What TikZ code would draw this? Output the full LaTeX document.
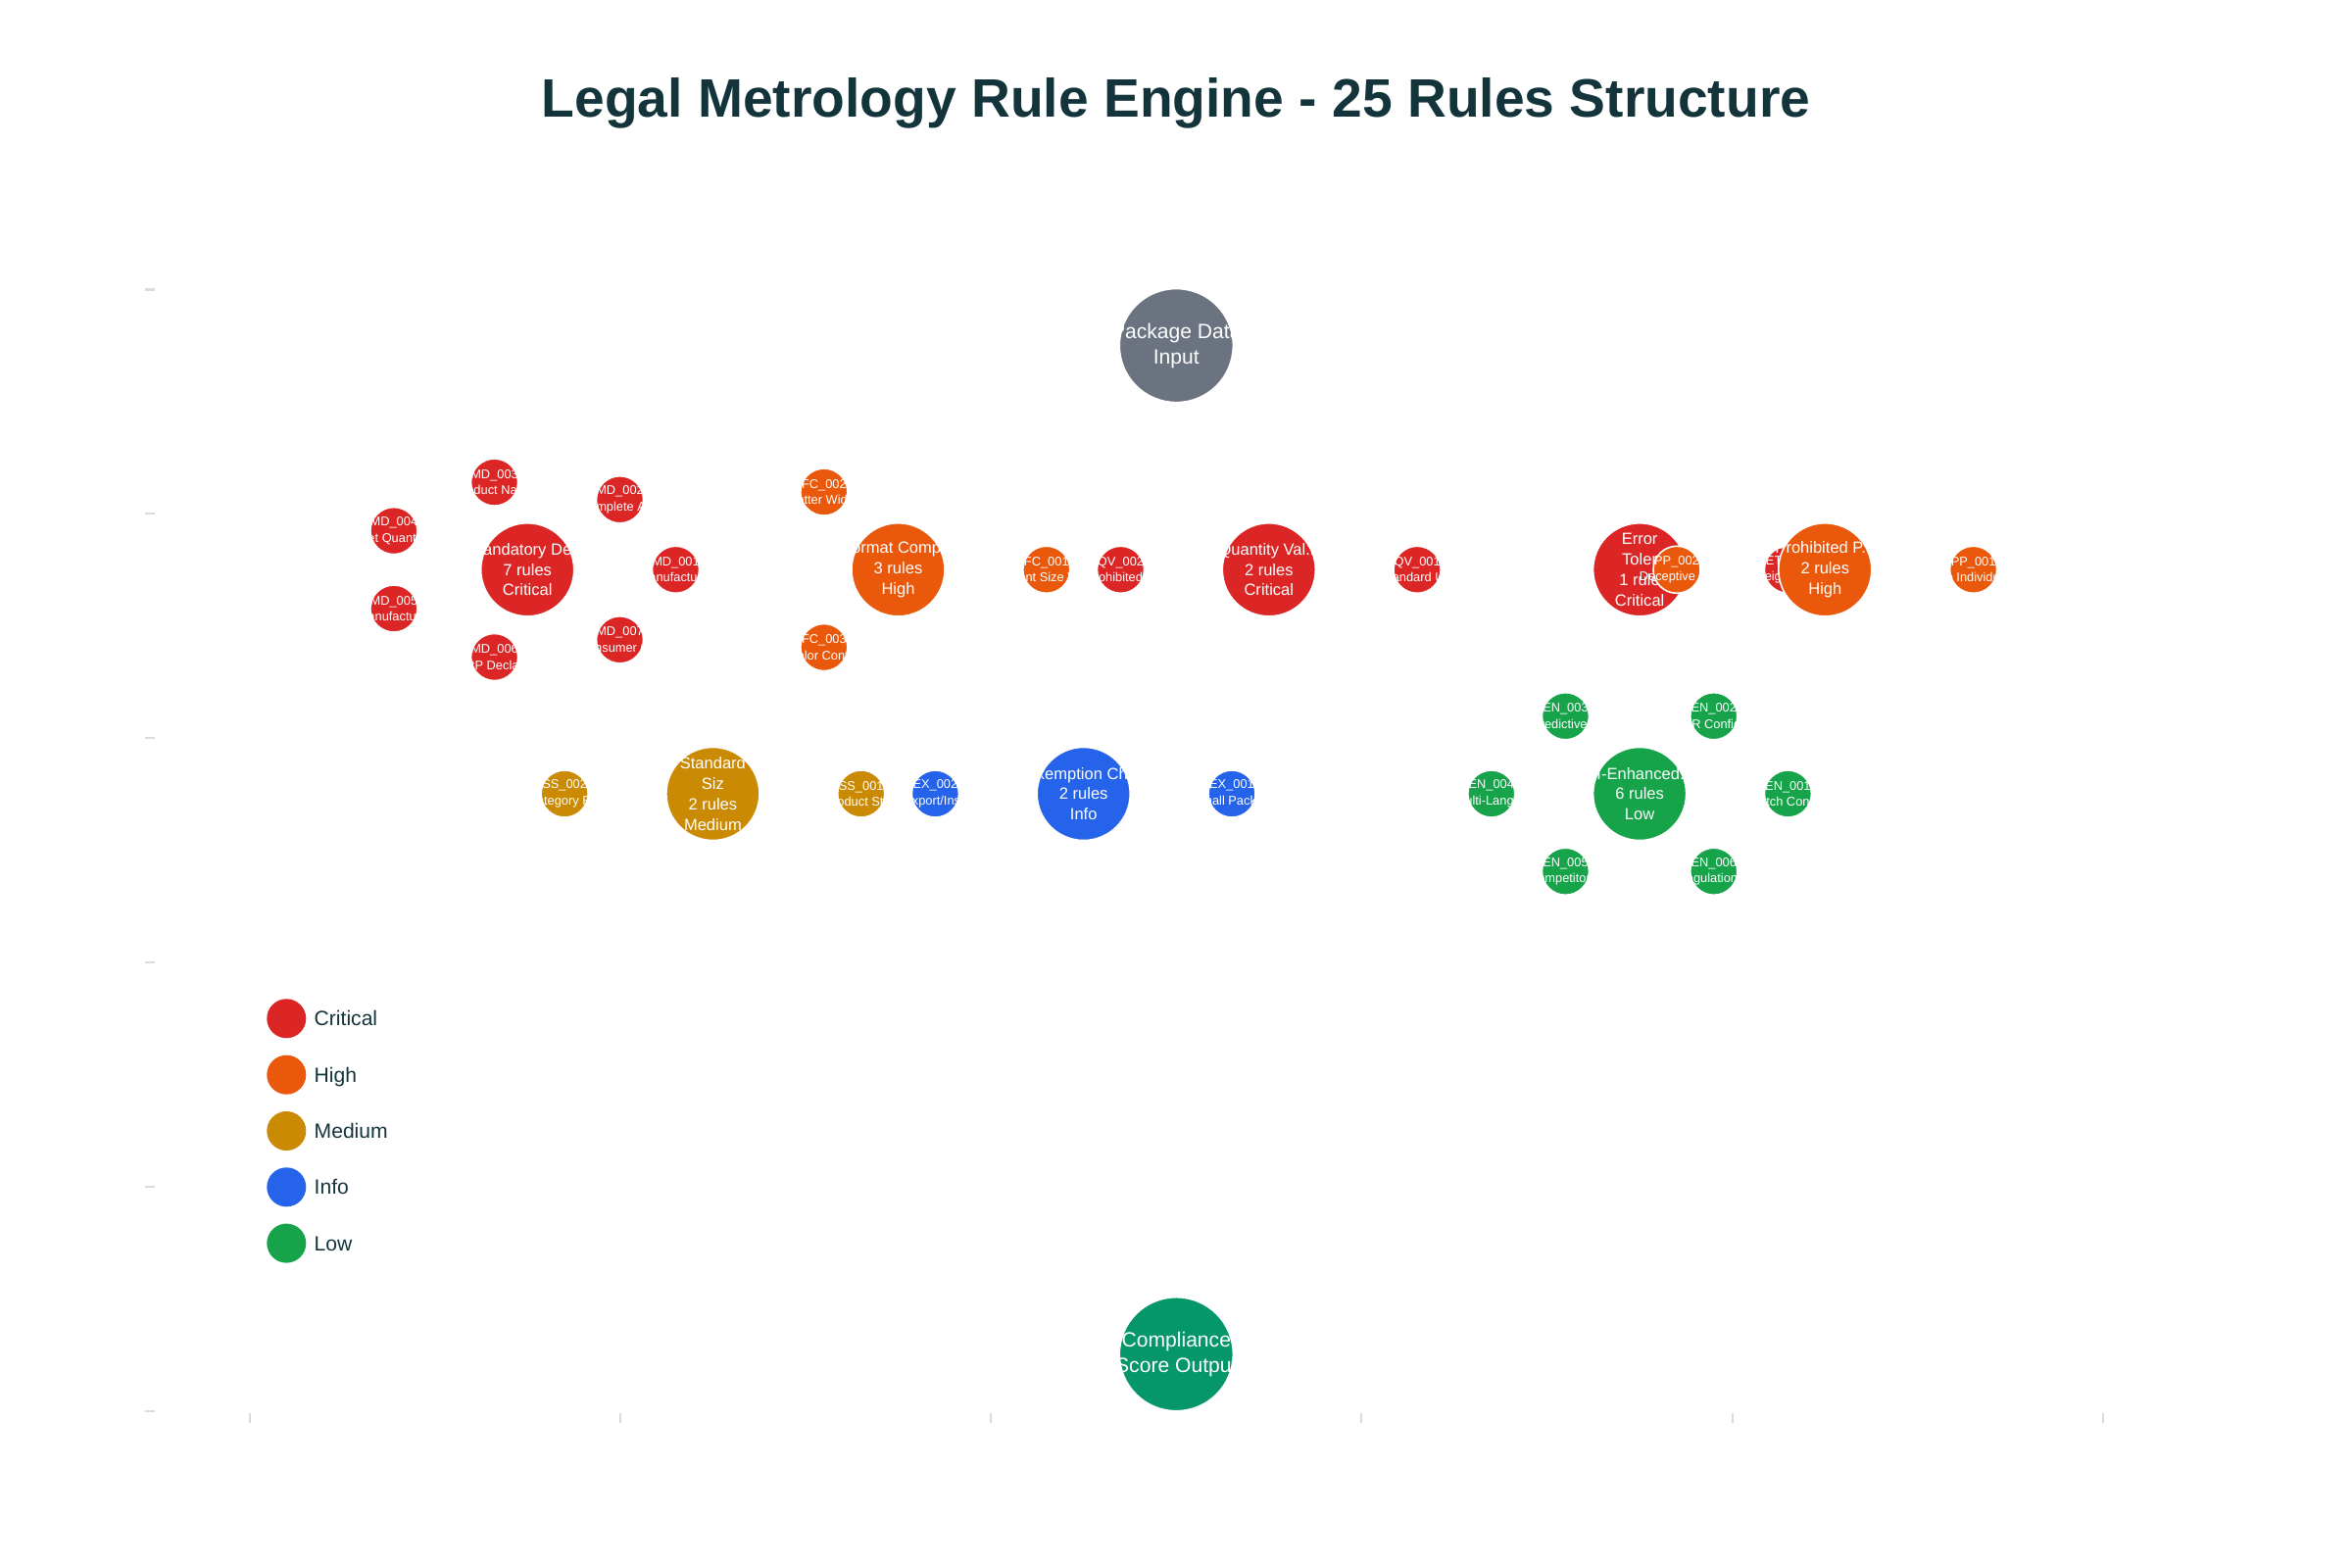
\documentclass[tikz,border=0pt]{standalone}
\usepackage{fontspec}
\setmainfont{Liberation Sans}
\definecolor{cCrit}{HTML}{DC2626}
\definecolor{cHigh}{HTML}{EA580C}
\definecolor{cMed}{HTML}{CA8A04}
\definecolor{cInfo}{HTML}{2563EB}
\definecolor{cLow}{HTML}{16A34A}
\definecolor{cGray}{HTML}{6B7280}
\definecolor{cOut}{HTML}{059669}
\definecolor{cTitle}{HTML}{13343B}
\definecolor{cTick}{HTML}{DEDAD8}
\tikzset{
  bub/.style={circle, inner sep=0pt, draw=white, line width=0.45pt},
  mainbub/.style={bub, minimum size=0.95cm},
  rulebub/.style={bub, minimum size=0.48cm},
  iobub/.style={bub, minimum size=1.16cm},
  legbub/.style={circle, inner sep=0pt, minimum size=0.40cm},
  maintxt/.style={text=white, align=center, inner sep=0pt, font=\fontsize{4.7}{5.9}\selectfont},
  ruletxt/.style={text=white, align=center, inner sep=0pt, font=\fontsize{3.65}{4.7}\selectfont},
  iotxt/.style={text=white, align=center, inner sep=0pt, font=\fontsize{6}{7.4}\selectfont},
  legtxt/.style={text=cTitle, inner sep=0pt, anchor=base west, font=\fontsize{6}{7.2}\selectfont},
  titletxt/.style={text=cTitle, inner sep=0pt, anchor=base, font=\fontsize{15.7}{19}\selectfont\bfseries},
  tickmark/.style={draw=cTick, line width=0.57pt},
}
\newcommand{\rulebubble}[6]{%
  \node[rulebub, fill=#5] (#1) at ({#2+151.3*cos(#4)},{#3-91.5*sin(#4)}) {};
  \node[ruletxt] (#1-t) at (#1.center) {#6};
}
\newcommand{\mainbubble}[5]{%
  \node[mainbub, fill=#4] (#1) at (#2,#3) {};
  \node[maintxt] (#1-t) at (#1.center) {#5};
}
\begin{document}
\begin{tikzpicture}[x=0.01cm, y=-0.01cm]
\fill[white] (0,0) rectangle (2400,1600);
\useasboundingbox (0,0) rectangle (2400,1600);

% title
\node[titletxt] (title) at (1200,120) {Legal Metrology Rule Engine - 25 Rules Structure};

% axis ticks
\foreach \yy [count=\i] in {295.5,524.3,753.1,981.9,1210.7,1439.5}
  \draw[tickmark] (148,\yy) coordinate (yt\i a) -- (158,\yy) coordinate (yt\i b);
\foreach \xx [count=\i] in {254.5,632.8,1011.1,1389.4,1767.7,2146}
  \draw[tickmark] (\xx,1442) coordinate (xt\i a) -- (\xx,1452) coordinate (xt\i b);

% input
\node[iobub, fill=cGray] (input) at (1200.3,352.6) {};
\node[iotxt] (input-t) at (input.center) {Package Data\\Input};

% Mandatory Declarations
\mainbubble{md}{538.2}{581.3}{cCrit}{Mandatory De...\\7 rules\\Critical}
\rulebubble{md1}{538.2}{581.3}{0}{cCrit}{MD\_001\\Manufacturer}
\rulebubble{md2}{538.2}{581.3}{51.4286}{cCrit}{MD\_002\\Complete Add}
\rulebubble{md3}{538.2}{581.3}{102.857}{cCrit}{MD\_003\\Product Name}
\rulebubble{md4}{538.2}{581.3}{154.286}{cCrit}{MD\_004\\Net Quantity}
\rulebubble{md5}{538.2}{581.3}{205.714}{cCrit}{MD\_005\\Manufacturin}
\rulebubble{md6}{538.2}{581.3}{257.143}{cCrit}{MD\_006\\MRP Declarat}
\rulebubble{md7}{538.2}{581.3}{308.571}{cCrit}{MD\_007\\Consumer Car}

% Format Compliance
\mainbubble{fc}{916.5}{581.3}{cHigh}{Format Comp...\\3 rules\\High}
\rulebubble{fc1}{916.5}{581.3}{0}{cHigh}{FC\_001\\Font Size Va}
\rulebubble{fc2}{916.5}{581.3}{120}{cHigh}{FC\_002\\Letter Width}
\rulebubble{fc3}{916.5}{581.3}{240}{cHigh}{FC\_003\\Color Contra}

% Quantity Validation
\mainbubble{qv}{1294.8}{581.3}{cCrit}{Quantity Val...\\2 rules\\Critical}
\rulebubble{qv1}{1294.8}{581.3}{0}{cCrit}{QV\_001\\Standard Uni}
\rulebubble{qv2}{1294.8}{581.3}{180}{cCrit}{QV\_002\\Prohibited U}

% Error Tolerance
\mainbubble{et}{1673.1}{581.3}{cCrit}{Error\\Toler\\1 rule\\Critical}
\rulebubble{et1}{1673.1}{581.3}{0}{cCrit}{ET\_001\\Weight Toler}

% Prohibited Practices
\mainbubble{pp}{1862.3}{581.3}{cHigh}{Prohibited P...\\2 rules\\High}
\rulebubble{pp1}{1862.3}{581.3}{0}{cHigh}{PP\_001\\No Individual}
\rulebubble{pp2}{1862.3}{581.3}{180}{cHigh}{PP\_002\\Deceptive Pa}

% Standard Sizes
\mainbubble{ss}{727.4}{810}{cMed}{Standard\\Siz\\2 rules\\Medium}
\rulebubble{ss1}{727.4}{810}{0}{cMed}{SS\_001\\Product Stan}
\rulebubble{ss2}{727.4}{810}{180}{cMed}{SS\_002\\Category Rul}

% Exemption Check
\mainbubble{ex}{1105.7}{810}{cInfo}{Exemption Ch...\\2 rules\\Info}
\rulebubble{ex1}{1105.7}{810}{0}{cInfo}{EX\_001\\Small Packag}
\rulebubble{ex2}{1105.7}{810}{180}{cInfo}{EX\_002\\Export/Insti}

% AI-Enhanced
\mainbubble{ai}{1673.1}{810}{cLow}{AI-Enhanced...\\6 rules\\Low}
\rulebubble{ai1}{1673.1}{810}{0}{cLow}{EN\_001\\Batch Consis}
\rulebubble{ai2}{1673.1}{810}{60}{cLow}{EN\_002\\OCR Confiden}
\rulebubble{ai3}{1673.1}{810}{120}{cLow}{EN\_003\\Predictive S}
\rulebubble{ai4}{1673.1}{810}{180}{cLow}{EN\_004\\Multi-Langua}
\rulebubble{ai5}{1673.1}{810}{240}{cLow}{EN\_005\\Competitor A}
\rulebubble{ai6}{1673.1}{810}{300}{cLow}{EN\_006\\Regulation U}

% output
\node[iobub, fill=cOut] (output) at (1200.3,1381.7) {};
\node[iotxt] (output-t) at (output.center) {Compliance\\Score Output};

% legend
\foreach \nm/\col/\lab/\yy in {lc/cCrit/Critical/1039.3, lh/cHigh/High/1096.7, lm/cMed/Medium/1154, li/cInfo/Info/1211.3, ll/cLow/Low/1268.6}{
  \node[legbub, fill=\col] (\nm) at (292.3,\yy) {};
  \node[legtxt] (\nm-t) at (320,\yy+7.5) {\lab};
}
\end{tikzpicture}
\end{document}
